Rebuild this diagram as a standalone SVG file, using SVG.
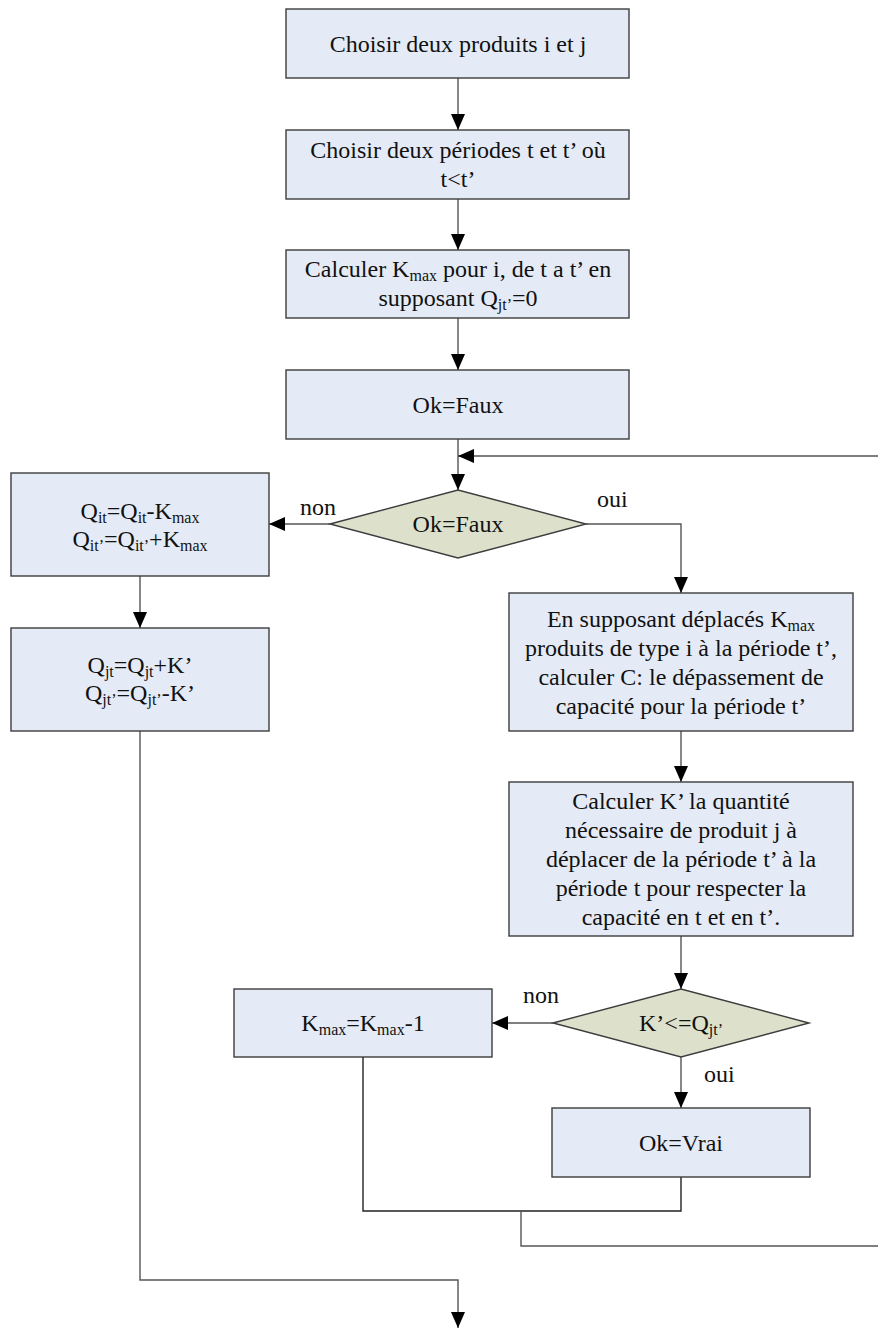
<svg xmlns="http://www.w3.org/2000/svg" width="878" height="1328" viewBox="0 0 878 1328">
<style>
.box{fill:#e5ebf6;stroke:#3c3c3c;stroke-width:1.4}
.dia{fill:#dde1cc;stroke:#3c3c3c;stroke-width:1.4}
.t{font-family:"Liberation Serif","Times New Roman",serif;font-size:24px;fill:#111;text-anchor:middle}
.lbl{font-family:"Liberation Serif","Times New Roman",serif;font-size:24px;fill:#111}
.s{font-size:16px}
.c{fill:none;stroke:#555;stroke-width:1.4}
.k{fill:none;stroke:#222;stroke-width:1.4}
</style>
<defs>
<marker id="ah" markerUnits="userSpaceOnUse" markerWidth="16" markerHeight="14" refX="16" refY="7" orient="auto">
<path d="M0,0 L16,7 L0,14 z" fill="#000"/>
</marker>
</defs>
<g id="connectors">
<path class="c" d="M458,78 V130" marker-end="url(#ah)"/>
<path class="c" d="M458,199 V250" marker-end="url(#ah)"/>
<path class="c" d="M458,318 V370" marker-end="url(#ah)"/>
<path class="c" d="M458,439 V490" marker-end="url(#ah)"/>
<path class="c" d="M878,456 H458" marker-end="url(#ah)"/>
<path class="c" d="M330,524 H269" marker-end="url(#ah)"/>
<path class="c" d="M586,524 H681 V593" marker-end="url(#ah)"/>
<path class="c" d="M140,576 V628" marker-end="url(#ah)"/>
<path class="c" d="M681,731 V782" marker-end="url(#ah)"/>
<path class="c" d="M681,936 V989" marker-end="url(#ah)"/>
<path class="c" d="M553,1023 H492" marker-end="url(#ah)"/>
<path class="c" d="M681,1057 V1108" marker-end="url(#ah)"/>
<path class="k" d="M363,1057 V1211 H681 V1177"/>
<path class="c" d="M521,1211 V1246 H878"/>
<path class="c" d="M140,731 V1280 H458 V1328" marker-end="url(#ah)"/>
<text class="lbl" x="300" y="515">non</text>
<text class="lbl" x="597" y="507">oui</text>
<text class="lbl" x="523" y="1003">non</text>
<text class="lbl" x="704" y="1082">oui</text>
</g>
<g id="n1">
<rect class="box" x="286" y="9" width="343" height="69"/>
<text class="t" x="458" y="52">Choisir deux produits i et j</text>
</g>
<g id="n2">
<rect class="box" x="286" y="130" width="343" height="69"/>
<text class="t" x="458" y="158">Choisir deux périodes t et t’ où</text>
<text class="t" x="458" y="187">t&lt;t’</text>
</g>
<g id="n3">
<rect class="box" x="286" y="250" width="343" height="68"/>
<text class="t" x="458" y="277">Calculer K<tspan class="s" dy="4">max</tspan><tspan dy="-4"> pour i, de t a t’ en</tspan></text>
<text class="t" x="458" y="306">supposant Q<tspan class="s" dy="4">jt’</tspan><tspan dy="-4">=0</tspan></text>
</g>
<g id="n4">
<rect class="box" x="286" y="370" width="343" height="69"/>
<text class="t" x="458" y="413">Ok=Faux</text>
</g>
<g id="d1">
<polygon class="dia" points="330,524 458,490 586,524 458,558"/>
<text class="t" x="458" y="532">Ok=Faux</text>
</g>
<g id="l1">
<rect class="box" x="11" y="473" width="258" height="103"/>
<text class="t" x="140" y="519">Q<tspan class="s" dy="4">it</tspan><tspan dy="-4">=Q</tspan><tspan class="s" dy="4">it</tspan><tspan dy="-4">-K</tspan><tspan class="s" dy="4">max</tspan></text>
<text class="t" x="140" y="547">Q<tspan class="s" dy="4">it’</tspan><tspan dy="-4">=Q</tspan><tspan class="s" dy="4">it’</tspan><tspan dy="-4">+K</tspan><tspan class="s" dy="4">max</tspan></text>
</g>
<g id="l2">
<rect class="box" x="11" y="628" width="258" height="103"/>
<text class="t" x="140" y="673">Q<tspan class="s" dy="4">jt</tspan><tspan dy="-4">=Q</tspan><tspan class="s" dy="4">jt</tspan><tspan dy="-4">+K’</tspan></text>
<text class="t" x="140" y="701">Q<tspan class="s" dy="4">jt’</tspan><tspan dy="-4">=Q</tspan><tspan class="s" dy="4">jt’</tspan><tspan dy="-4">-K’</tspan></text>
</g>
<g id="r1">
<rect class="box" x="509" y="593" width="344" height="138"/>
<text class="t" x="681" y="627">En supposant déplacés K<tspan class="s" dy="4">max</tspan></text>
<text class="t" x="681" y="656">produits de type i à la période t’,</text>
<text class="t" x="681" y="685">calculer C: le dépassement de</text>
<text class="t" x="681" y="714">capacité pour la période t’</text>
</g>
<g id="r2">
<rect class="box" x="509" y="782" width="344" height="154"/>
<text class="t" x="681" y="809">Calculer K’ la quantité</text>
<text class="t" x="681" y="838">nécessaire de produit j à</text>
<text class="t" x="681" y="867">déplacer de la période t’ à la</text>
<text class="t" x="681" y="896">période t pour respecter la</text>
<text class="t" x="681" y="925">capacité en t et en t’.</text>
</g>
<g id="d2">
<polygon class="dia" points="553,1023 681,989 809,1023 681,1057"/>
<text class="t" x="681" y="1031">K’&lt;=Q<tspan class="s" dy="4">jt’</tspan></text>
</g>
<g id="kmax">
<rect class="box" x="234" y="989" width="258" height="68"/>
<text class="t" x="363" y="1031">K<tspan class="s" dy="4">max</tspan><tspan dy="-4">=K</tspan><tspan class="s" dy="4">max</tspan><tspan dy="-4">-1</tspan></text>
</g>
<g id="okvrai">
<rect class="box" x="552" y="1108" width="258" height="69"/>
<text class="t" x="681" y="1151">Ok=Vrai</text>
</g>
</svg>
